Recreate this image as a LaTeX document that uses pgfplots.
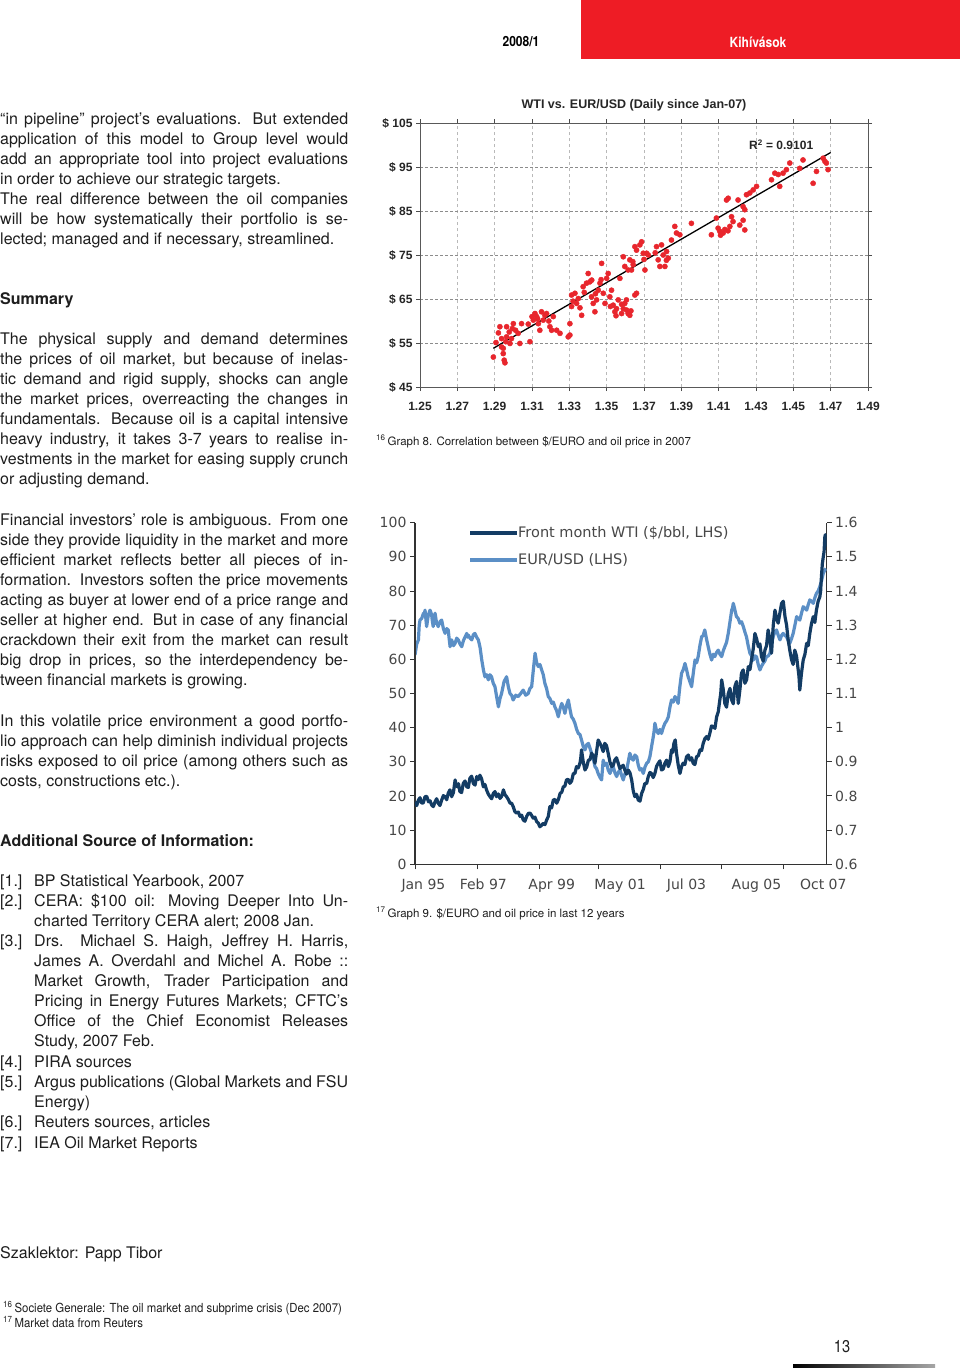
\documentclass[border=0pt]{standalone}
\usepackage{pgfplots}
\pgfplotsset{compat=1.18}
\usepackage{fontspec}
\setmainfont{TeX Gyre Heros}
\newfontfamily\arialfont{Liberation Sans}
\newfontfamily\verdanafont{DejaVu Sans}
\newfontfamily\condfont[FakeStretch=0.86]{TeX Gyre Heros}
\newfontfamily\footfont[FakeStretch=0.91]{TeX Gyre Heros}
\definecolor{headred}{HTML}{EE1C25}
\definecolor{ptred}{HTML}{E8262D}
\definecolor{wtiblue}{HTML}{133C64}
\definecolor{eurblue}{HTML}{5B8FC6}
\definecolor{bodytext}{HTML}{1E1E1E}
\newcommand{\bodyfont}{\fontsize{16}{20.1}\selectfont}
\begin{document}
\begin{tikzpicture}[x=1pt,y=1pt]
\path[use as bounding box, fill=white] (0,0) rectangle (960,-1369);
% header
\fill[headred] (581,0) rectangle (960,-59);
\node[font=\condfont\bfseries\fontsize{14}{14}\selectfont, text=black] at (521,-42) {2008/1};
\node[font=\condfont\bfseries\fontsize{14}{14}\selectfont, text=white] at (758,-42) {Kihívások};
% left column text
\begin{scope}[every node/.style={anchor=base west, text width=348pt, align=justify, inner sep=0pt, text=bodytext, font=\bodyfont}]
\node at (0,-124) {“in pipeline” project’s evaluations. But extended\linebreak
application of this model to Group level would\linebreak
add an appropriate tool into project evaluations\linebreak
in order to achieve our strategic targets.\\
The real difference between the oil companies\linebreak
will be how systematically their portfolio is se-\linebreak
lected; managed and if necessary, streamlined.};
\node at (0,-304) {\textbf{Summary}};
\node at (0,-344) {The physical supply and demand determines\linebreak
the prices of oil market, but because of inelas-\linebreak
tic demand and rigid supply, shocks can angle\linebreak
the market prices, overreacting the changes in\linebreak
fundamentals. Because oil is a capital intensive\linebreak
heavy industry, it takes 3-7 years to realise in-\linebreak
vestments in the market for easing supply crunch\linebreak
or adjusting demand.};
\node at (0,-525) {Financial investors’ role is ambiguous. From one\linebreak
side they provide liquidity in the market and more\linebreak
efficient market reflects better all pieces of in-\linebreak
formation. Investors soften the price movements\linebreak
acting as buyer at lower end of a price range and\linebreak
seller at higher end. But in case of any financial\linebreak
crackdown their exit from the market can result\linebreak
big drop in prices, so the interdependency be-\linebreak
tween financial markets is growing.};
\node at (0,-726) {In this volatile price environment a good portfo-\linebreak
lio approach can help diminish individual projects\linebreak
risks exposed to oil price (among others such as\linebreak
costs, constructions etc.).};
\node at (0,-846) {\textbf{Additional Source of Information:}};
\node at (0,-1258) {Szaklektor: Papp Tibor};
\end{scope}
\begin{scope}[every node/.style={anchor=base west, inner sep=0pt, text=bodytext, font=\bodyfont}]
\node at (0,-886) {[1.]};
\node at (0,-906) {[2.]};
\node at (0,-946) {[3.]};
\node at (0,-1067) {[4.]};
\node at (0,-1087) {[5.]};
\node at (0,-1127) {[6.]};
\node at (0,-1148) {[7.]};
\end{scope}
\begin{scope}[every node/.style={anchor=base west, text width=314pt, align=justify, inner sep=0pt, text=bodytext, font=\bodyfont}]
\node at (34,-886) {BP Statistical Yearbook, 2007};
\node at (34,-906) {CERA: \$100 oil: Moving Deeper Into Un-\linebreak
charted Territory CERA alert; 2008 Jan.};
\node at (34,-946) {Drs. Michael S. Haigh, Jeffrey H. Harris,\linebreak
James A. Overdahl and Michel A. Robe ::\linebreak
Market Growth, Trader Participation and\linebreak
Pricing in Energy Futures Markets; CFTC’s\linebreak
Office of the Chief Economist Releases\linebreak
Study, 2007 Feb.};
\node at (34,-1067) {PIRA sources};
\node at (34,-1087) {Argus publications (Global Markets and FSU\linebreak
Energy)};
\node at (34,-1127) {Reuters sources, articles};
\node at (34,-1148) {IEA Oil Market Reports};
\end{scope}
% footnotes
\node[anchor=base west, inner sep=0pt, font=\footfont\fontsize{12.5}{12.5}\selectfont, text=bodytext] at (3,-1312) {\textsuperscript{16}\,Societe Generale: The oil market and subprime crisis (Dec 2007)};
\node[anchor=base west, inner sep=0pt, font=\footfont\fontsize{12.5}{12.5}\selectfont, text=bodytext] at (3,-1327) {\textsuperscript{17}\,Market data from Reuters};
\node[font=\condfont\fontsize{17}{17}\selectfont, text=bodytext] at (842,-1347) {13};
\shade[left color=black, right color=black!35] (793,-1364) rectangle (935,-1367);
% captions
\node[anchor=base west, inner sep=0pt, font=\fontsize{11.5}{11.5}\selectfont, text=bodytext] at (376,-445) {\textsuperscript{16}\,Graph 8. Correlation between \$/EURO and oil price in 2007};
\node[anchor=base west, inner sep=0pt, font=\fontsize{11.5}{11.5}\selectfont, text=bodytext] at (376,-917) {\textsuperscript{17}\,Graph 9. \$/EURO and oil price in last 12 years};
% ---------------- scatter chart
\node[font=\arialfont\bfseries\fontsize{12.5}{12.5}\selectfont, text=black!85] at (634,-105) {WTI vs. EUR/USD (Daily since Jan-07)};
\begin{axis}[
  at={(420pt,-387pt)}, anchor=south west, scale only axis,
  width=448pt, height=264pt,
  xmin=1.25, xmax=1.49, ymin=45, ymax=105,
  xtick={1.25,1.27,1.29,1.31,1.33,1.35,1.37,1.39,1.41,1.43,1.45,1.47,1.49},
  xticklabels={1.25,1.27,1.29,1.31,1.33,1.35,1.37,1.39,1.41,1.43,1.45,1.47,1.49},
  ytick={45,55,65,75,85,95,105},
  yticklabels={\$ 45,\$ 55,\$ 65,\$ 75,\$ 85,\$ 95,\$ 105},
  ticklabel style={font=\arialfont\bfseries\fontsize{12}{12}\selectfont, text=black!85},
  xticklabel style={yshift=-8pt},
  tick align=outside, major tick length=4pt,
  tick style={black!70, line width=0.8pt},
  axis line style={black!65, line width=1pt},
  grid=major,
  x grid style={gray!55, dash pattern=on 3pt off 3pt, line width=0.8pt},
  y grid style={black!45, dash pattern=on 3pt off 2pt, line width=0.9pt},
  clip=false,
]
\addplot[only marks, mark=*, mark size=2.6pt, color=ptred] coordinates {
(1.2893,51.8)(1.2907,55.1)(1.2928,58.7)(1.2937,54.1)(1.2946,52.6)(1.2951,51.1)
(1.2955,50.5)(1.2937,56.0)(1.2964,56.4)(1.2964,58.7)(1.2978,57.5)(1.2990,56.0)
(1.3000,59.4)(1.3012,57.9)(1.3026,57.2)(1.3035,54.9)(1.3044,59.4)(1.2982,54.9)
(1.2946,53.8)(1.3089,55.3)(1.3107,60.2)(1.3116,61.7)(1.3125,61.0)(1.3134,59.4)
(1.3142,57.9)(1.3151,62.1)(1.3160,60.2)(1.3169,61.3)(1.3178,61.7)(1.3196,58.7)
(1.3205,57.9)(1.3214,61.0)(1.3232,57.9)(1.3250,57.2)(1.3294,56.4)(1.3303,56.8)
(1.3303,59.4)(1.3312,63.3)(1.3312,65.9)(1.3330,66.3)(1.3339,64.0)(1.3348,65.1)
(1.3357,63.0)(1.3366,61.3)(1.3374,67.8)(1.3392,68.6)(1.3401,70.8)(1.3410,68.9)
(1.3419,65.5)(1.3428,64.0)(1.3437,62.1)(1.3446,64.8)(1.3455,67.0)(1.3464,68.6)
(1.3473,73.1)(1.3482,66.3)(1.3491,64.0)(1.3500,69.7)(1.3508,70.8)(1.3517,65.5)
(1.3526,67.0)(1.3535,63.6)(1.3544,62.1)(1.3553,62.8)(1.3562,64.8)(1.3571,69.7)
(1.3580,61.7)(1.3589,74.6)(1.3589,62.8)(1.3597,64.0)(1.3606,62.5)(1.3615,61.7)
(1.3624,61.3)(1.3606,64.8)(1.3597,72.4)(1.3615,71.6)(1.3624,73.9)(1.3633,71.6)
(1.3642,72.8)(1.3651,65.9)(1.3660,66.3)(1.3651,76.9)(1.3660,76.1)(1.3678,77.3)
(1.3687,78.0)(1.3696,75.4)(1.3705,71.6)(1.3714,75.4)(1.3723,75.0)(1.3767,76.9)
(1.3776,73.9)(1.3785,72.4)(1.3794,77.3)(1.3803,75.0)(1.3812,72.4)(1.3821,75.8)
(1.3830,74.3)(1.3847,78.4)(1.3865,81.5)(1.3874,80.0)(1.3892,79.6)(1.3954,82.2)
(1.4061,79.6)(1.4088,83.4)(1.4097,81.1)(1.4106,80.4)(1.4124,80.0)(1.4133,80.8)
(1.4142,87.5)(1.4151,87.9)(1.4160,81.5)(1.4169,83.7)(1.4177,82.6)(1.4204,87.5)
(1.4213,81.8)(1.4231,82.9)(1.4240,80.7)(1.4231,86.0)(1.4249,88.7)(1.4267,89.1)
(1.4285,89.8)(1.4303,90.6)(1.4383,92.1)(1.4401,93.6)(1.4419,93.3)(1.4427,90.6)
(1.4445,93.6)(1.4463,94.4)(1.4481,95.9)(1.4534,94.7)(1.4552,96.6)(1.4606,91.3)
(1.4624,94.0)(1.4660,97.0)(1.4669,96.3)(1.4677,95.9)(1.4686,94.4)
(1.2920,57.3)(1.2960,55.3)(1.2995,58.3)(1.3080,59.3)(1.3100,61.0)(1.3130,60.5)
(1.3190,60.0)(1.3320,64.5)(1.3380,66.5)(1.3420,69.3)(1.3440,66.2)(1.3470,69.4)
(1.3520,63.3)(1.3550,61.2)(1.3580,63.8)(1.3630,62.3)(1.3640,73.5)(1.3700,74.0)
(1.3760,75.5)(1.3820,73.8)(1.4110,79.5)(1.4150,80.5)(1.4240,85.3)
};
\addplot[black, line width=1.3pt] coordinates {(1.2893,53.8)(1.4700,98.3)};
\node[font=\arialfont\bfseries\fontsize{12}{12}\selectfont, text=black!85] at (axis cs:1.4435,100.1) {R\textsuperscript{2} = 0.9101};
\end{axis}
% ---------------- line chart
\begin{axis}[
  at={(415pt,-864.3pt)}, anchor=south west, scale only axis,
  width=411.7pt, height=341.6pt,
  xmin=0, xmax=156, ymin=0.6, ymax=1.6,
  axis y line*=right, axis x line=none,
  ytick={0.6,0.7,0.8,0.9,1.0,1.1,1.2,1.3,1.4,1.5,1.6},
  yticklabels={0.6,0.7,0.8,0.9,1,1.1,1.2,1.3,1.4,1.5,1.6},
  ticklabel style={font=\verdanafont\fontsize{14}{14}\selectfont, text=black!72},
  tick align=outside, major tick length=5pt,
  tick style={black!80, line width=1pt},
  axis line style={black!80, line width=1.1pt},
]
\addplot[eurblue, line width=3.2pt, line join=round] coordinates {
(0,1.213)(0.65,1.245)(1.3,1.257)(1.6,1.30)(1.9,1.315)(2.55,1.32)(3.2,1.335)(3.5,1.33)
(3.8,1.344)(4.1,1.32)(4.4,1.296)(5.05,1.33)(5.7,1.344)(6.0,1.338)(6.3,1.330)(6.6,1.31)
(6.9,1.296)(7.25,1.32)(7.6,1.335)(8.2,1.305)(8.8,1.296)(9.45,1.31)(10.1,1.315)(10.75,1.29)
(11.4,1.276)(12.0,1.29)(12.6,1.286)(12.95,1.26)(13.3,1.237)(13.6,1.25)(13.9,1.257)(14.55,1.24)
(15.2,1.247)(15.8,1.262)(16.4,1.257)(17.05,1.245)(17.7,1.237)(18.35,1.255)(19,1.266)(19.3,1.27)
(19.6,1.276)(19.9,1.265)(20.2,1.271)(20.85,1.262)(21.5,1.257)(22.1,1.272)(22.7,1.276)(23.35,1.265)
(24,1.257)(24.65,1.235)(25.3,1.198)(25.9,1.17)(26.5,1.149)(27.15,1.155)(27.8,1.140)(28.4,1.155)
(29,1.149)(29.65,1.13)(30.3,1.120)(30.95,1.09)(31.6,1.061)(32.2,1.085)(32.8,1.100)(33.75,1.135)
(34.7,1.149)(35.35,1.12)(36,1.100)(36.6,1.095)(37.2,1.081)(38.15,1.095)(39.1,1.091)(40.05,1.10)
(41,1.110)(41.95,1.095)(42.9,1.100)(43.55,1.115)(44.2,1.120)(44.85,1.17)(45.5,1.218)(46.1,1.19)
(46.7,1.179)(47.35,1.185)(48,1.169)(48.6,1.155)(49.2,1.130)(49.85,1.115)(50.5,1.091)(51.15,1.085)
(51.8,1.071)(52.4,1.075)(53,1.061)(53.65,1.05)(54.3,1.032)(54.95,1.055)(55.6,1.071)(56.2,1.06)
(56.8,1.042)(57.45,1.065)(58.1,1.081)(58.7,1.055)(59.3,1.032)(59.95,1.025)(60.6,1.013)(61.25,0.995)
(61.9,0.983)(62.5,0.98)(63.1,0.964)(63.75,0.945)(64.4,0.935)(65.05,0.95)(65.7,0.954)(66.3,0.94)
(66.9,0.925)(67.55,0.91)(68.2,0.886)(68.8,0.88)(69.4,0.866)(70.05,0.855)(70.7,0.847)(71.0,0.875)
(71.3,0.905)(71.95,0.89)(72.6,0.896)(73.25,0.875)(73.9,0.866)(74.5,0.88)(75.1,0.886)(75.75,0.868)
(76.4,0.857)(77.05,0.87)(77.7,0.876)(78.3,0.86)(78.9,0.847)(79.55,0.865)(80.2,0.876)(80.8,0.90)
(81.4,0.925)(82.05,0.91)(82.7,0.905)(83.35,0.92)(84,0.915)(84.6,0.89)(85.2,0.876)(85.85,0.88)
(86.5,0.866)(87.15,0.885)(87.8,0.896)(88.4,0.90)(89,0.915)(89.65,0.945)(90.3,0.974)(90.6,0.99)
(90.9,1.013)(91.55,0.99)(92.2,0.983)(92.8,0.995)(93.4,0.983)(94.05,1.00)(94.7,1.013)(95.35,1.02)
(96,1.032)(96.6,1.06)(97.2,1.081)(97.85,1.075)(98.5,1.091)(99.1,1.085)(99.7,1.071)(100.35,1.12)
(101,1.159)(101.65,1.17)(102.3,1.188)(102.9,1.17)(103.5,1.149)(104.15,1.135)(104.8,1.120)(105.45,1.16)
(106.1,1.198)(106.7,1.19)(107.3,1.208)(107.95,1.24)(108.6,1.266)(109.2,1.27)(109.8,1.286)(110.45,1.26)
(111.1,1.237)(111.75,1.215)(112.4,1.198)(113.0,1.215)(113.6,1.208)(114.25,1.22)(114.9,1.227)(115.55,1.215)
(116.2,1.208)(116.8,1.225)(117.4,1.237)(118.05,1.25)(118.7,1.276)(119.35,1.31)(120,1.344)(120.3,1.35)
(120.6,1.364)(121.2,1.345)(121.8,1.325)(122.45,1.32)(123.1,1.306)(123.75,1.31)(124.4,1.296)(125.0,1.28)
(125.6,1.266)(126.25,1.24)(126.9,1.218)(127.55,1.21)(128.2,1.198)(128.8,1.21)(129.4,1.208)(130.05,1.185)
(130.7,1.169)(131.3,1.18)(131.9,1.188)(132.55,1.195)(133.2,1.208)(133.85,1.21)(134.5,1.218)(135.1,1.245)
(135.7,1.266)(136.35,1.28)(137,1.286)(137.65,1.27)(138.3,1.257)(138.9,1.27)(139.5,1.276)(140.15,1.27)
(140.8,1.266)(141.4,1.255)(142,1.247)(142.65,1.26)(143.3,1.276)(143.95,1.30)(144.6,1.325)(145.2,1.32)
(145.8,1.315)(146.45,1.335)(147.1,1.354)(147.75,1.35)(148.4,1.344)(149.0,1.36)(149.6,1.374)(150.25,1.37)
(150.9,1.364)(151.5,1.38)(152.1,1.393)(152.75,1.40)(153.4,1.413)(154.05,1.43)(154.7,1.452)(155.2,1.46)
(155.7,1.466)
};
\end{axis}
\begin{axis}[
  at={(415pt,-864.3pt)}, anchor=south west, scale only axis,
  width=411.7pt, height=341.6pt,
  xmin=0, xmax=156, ymin=0, ymax=100,
  axis x line*=bottom, axis y line*=left,
  xtick={0,23.6,47.3,69.4,93,116.2,139.6}, xticklabels={},
  extra x ticks={3.2,25.9,51.8,77.7,102.9,129.4,154.7},
  extra x tick labels={Jan 95,Feb 97,Apr 99,May 01,Jul 03,Aug 05,Oct 07},
  extra x tick style={major tick length=0pt},
  xticklabel style={yshift=-11pt},
  ytick={0,10,20,30,40,50,60,70,80,90,100},
  /pgf/number format/assume math mode=true,
  ticklabel style={font=\verdanafont\fontsize{14}{14}\selectfont, text=black!72},
  tick align=outside, major tick length=5pt,
  tick style={black!80, line width=1pt},
  axis line style={black!80, line width=1.1pt},
]
\addplot[wtiblue, line width=3.2pt, line join=round] coordinates {
(0,18.3)(0.65,17.2)(1.3,18.8)(1.9,19.5)(2.5,17.9)(3.15,18.0)(3.8,19.8)(4.45,19.9)
(5.1,18.3)(5.7,18.6)(6.3,17.4)(6.95,16.9)(7.6,18.3)(8.2,19.2)(8.8,17.9)(9.45,17.2)
(10.1,18.8)(10.75,20.1)(11.4,19.8)(12.0,18.9)(12.6,20.8)(13.25,21.8)(13.9,19.8)(14.55,21.0)
(15.2,24.7)(15.6,23.2)(16,22.7)(16.5,23.6)(17,21.3)(17.65,21.0)(18.3,23.7)(18.95,24.4)
(19.6,22.7)(20.2,22.5)(20.8,25.2)(21.45,25.8)(22.1,23.7)(22.75,23.2)(23.4,25.7)(24.0,24.8)
(24.6,26.1)(25.25,25.0)(25.9,22.7)(26.5,23.4)(27.1,21.8)(27.75,20.6)(28.4,19.8)(29.05,19.2)
(29.7,20.8)(30.3,21.3)(30.9,19.8)(31.55,20.6)(32.2,19.3)(32.85,19.9)(33.5,21.8)(34.1,20.4)
(34.7,19.8)(35.35,19.0)(36,17.9)(36.6,17.9)(37.2,16.9)(37.85,15.4)(38.5,15.0)(39.15,15.3)
(39.8,14.0)(40.4,14.4)(41,13.0)(41.65,12.6)(42.3,14.0)(42.95,14.9)(43.6,15.0)(44.2,14.3)
(44.8,13.5)(45.45,13.8)(46.1,12.5)(46.7,12.1)(47.3,11.0)(47.95,11.4)(48.6,12.0)(49.25,11.6)
(49.9,13.0)(50.5,14.0)(51.1,16.9)(51.75,16.5)(52.4,18.8)(53.05,19.0)(53.7,17.9)(54.35,19.0)
(55,20.8)(55.6,21.1)(56.2,22.7)(56.8,22.9)(57.4,24.7)(58.05,24.9)(58.7,23.7)(59.35,24.4)
(60,26.6)(60.6,26.6)(61.2,28.6)(61.85,28.2)(62.5,29.6)(62.8,31.0)(63.1,33.5)(63.75,30.0)
(64.4,27.6)(65.05,28.5)(65.7,30.5)(66.3,30.6)(66.9,32.5)(67.55,31.8)(68.2,29.6)(68.8,33.0)
(69.4,36.4)(70.05,35.5)(70.7,34.4)(71.3,33.0)(71.9,35.4)(72.55,34.8)(73.2,32.5)(73.85,30.0)
(74.5,28.6)(75.1,29.0)(75.7,30.5)(76.35,31.2)(77,29.6)(77.65,28.0)(78.3,28.6)(78.9,29.0)
(79.5,27.6)(80.15,26.4)(80.8,27.6)(81.45,26.8)(82.1,24.7)(82.7,21.5)(83.3,19.8)(83.95,20.5)
(84.6,18.8)(85.25,18.5)(85.9,20.8)(86.5,21.9)(87.1,23.7)(87.75,23.6)(88.4,25.7)(89.0,26.9)
(89.6,26.6)(90.25,25.4)(90.9,26.6)(91.55,28.7)(92.2,29.6)(92.8,30.3)(93.4,27.6)(94.05,27.9)
(94.7,29.6)(95.35,30.5)(96,28.6)(96.6,30.0)(97.2,33.5)(97.65,32.8)(98.1,35.4)(98.6,36.4)
(99.1,32.5)(99.75,29.0)(100.4,26.6)(101.0,28.6)(101.6,29.6)(102.25,29.2)(102.9,31.5)(103.55,32.0)
(104.2,30.5)(104.8,31.2)(105.4,29.6)(106.05,29.2)(106.7,31.5)(107.35,31.8)(108,33.5)(108.6,33.3)
(109.2,35.4)(109.85,36.8)(110.5,37.4)(111.1,36.6)(111.7,38.3)(112.35,40.5)(113,40.3)(113.65,39.8)
(114.3,43.2)(114.9,44.6)(115.5,48.1)(115.85,50.0)(116.2,54.0)(116.8,51.2)(117.4,47.1)(118.05,46.0)
(118.7,50.0)(119.35,51.5)(120,48.1)(120.6,47.0)(121.2,52.0)(121.85,53.5)(122.5,47.1)(123.1,51.0)
(123.7,55.9)(124.35,56.9)(125,53.0)(125.65,54.0)(126.3,57.9)(126.9,57.0)(127.5,59.8)(128.15,63.0)
(128.8,67.6)(129.45,66.0)(130.1,63.7)(130.7,64.5)(131.3,60.8)(131.95,59.5)(132.6,62.7)(133.2,64.0)
(133.8,68.6)(134.45,66.0)(135.1,61.8)(135.75,70.0)(136.4,74.4)(137.0,72.0)(137.6,70.6)(138.25,73.5)
(138.9,76.4)(139.55,77.0)(140.2,72.5)(140.8,70.0)(141.4,65.7)(142.05,62.5)(142.7,59.8)(143.3,58.5)
(143.9,62.7)(144.55,61.0)(145.2,56.9)(145.5,55.0)(145.8,51.0)(146.45,56.0)(147.1,59.8)(147.75,61.5)
(148.4,64.7)(149.0,64.0)(149.6,67.6)(150.25,70.5)(150.9,72.5)(151.5,70.8)(152.1,74.4)(152.75,77.0)
(153.4,78.3)(153.7,80.0)(154,84.2)(154.35,88.0)(154.7,90.0)(155.0,91.5)(155.3,95.9)(155.5,96.5)
(155.7,93.0)
};
\end{axis}
% legend of line chart
\draw[wtiblue, line width=3.2pt] (470,-533) -- (517,-533);
\node[anchor=west, inner sep=1pt, font=\verdanafont\fontsize{14.5}{14.5}\selectfont, text=black!72] at (517,-533) {Front month WTI (\$/bbl, LHS)};
\draw[eurblue, line width=3.2pt] (470,-560) -- (517,-560);
\node[anchor=west, inner sep=1pt, font=\verdanafont\fontsize{14.5}{14.5}\selectfont, text=black!72] at (517,-560) {EUR/USD (LHS)};
\end{tikzpicture}
\end{document}
